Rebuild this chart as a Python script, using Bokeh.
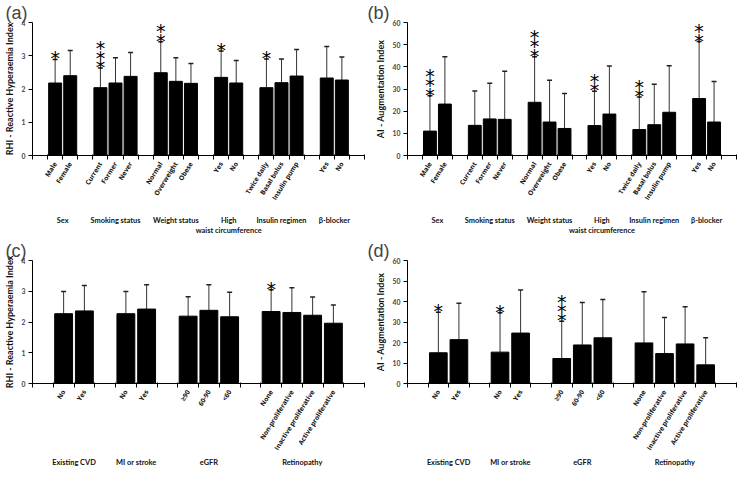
from math import radians
from bokeh.plotting import figure
from bokeh.models import (Range1d, FixedTicker, LinearAxis, ColumnDataSource,
                          Whisker, TeeHead)
from bokeh.layouts import row, column
from bokeh.core.properties import value
from bokeh.embed import file_html
from bokeh.resources import INLINE

# ---------------- data: panels (a) and (b) ----------------
ab_groups = ["Sex", "Smoking status", "Weight status", "High\nwaist circumference",
             "Insulin regimen", "\u03b2-blocker"]
ab_cats = ["Male", "Female", "Current", "Former", "Never", "Normal", "Overweight", "Obese",
           "Yes", "No", "Twice daily", "Basal bolus", "Insulin pump", "Yes", "No"]
ab_group_of = [0, 0, 1, 1, 1, 2, 2, 2, 3, 3, 4, 4, 4, 5, 5]

a_rhi = [2.18, 2.40, 2.04, 2.18, 2.38, 2.49, 2.23, 2.17, 2.35, 2.18, 2.04, 2.19, 2.39, 2.33, 2.27]
a_rhi_upper = [2.89, 3.16, 2.63, 2.94, 3.10, 3.42, 2.94, 2.77, 3.14, 2.86, 2.90, 2.90, 3.19, 3.28, 2.96]
a_stars = [1, 0, 3, 0, 0, 2, 0, 0, 1, 0, 1, 0, 0, 0, 0]

b_ai = [11.0, 23.2, 13.6, 16.5, 16.3, 24.0, 15.1, 12.2, 13.5, 18.7, 11.7, 13.9, 19.5, 25.7, 15.1]
b_ai_upper = [27.0, 44.5, 29.1, 32.6, 38.0, 44.6, 33.9, 28.0, 29.0, 40.4, 26.4, 32.1, 40.5, 51.4, 33.4]
b_stars = [3, 0, 0, 0, 0, 3, 0, 0, 2, 0, 2, 0, 0, 2, 0]

# ---------------- data: panels (c) and (d) ----------------
cd_groups = ["Existing CVD", "MI or stroke", "eGFR", "Retinopathy"]
cd_cats = ["No", "Yes", "No", "Yes", "\u226590", "60-90", "<60",
           "None", "Non-proliferative", "Inactive proliferative", "Active proliferative"]
cd_group_of = [0, 0, 1, 1, 2, 2, 2, 3, 3, 3, 3]

c_rhi = [2.27, 2.36, 2.27, 2.42, 2.19, 2.38, 2.17, 2.34, 2.31, 2.22, 1.96]
c_rhi_upper = [2.99, 3.19, 2.99, 3.21, 2.82, 3.21, 2.97, 3.05, 3.11, 2.81, 2.55]
c_stars = [0, 0, 0, 0, 0, 0, 0, 1, 0, 0, 0]

d_ai = [15.0, 21.4, 15.3, 24.6, 12.2, 18.8, 22.3, 19.8, 14.6, 19.3, 9.1]
d_ai_upper = [34.7, 39.1, 34.5, 45.6, 30.4, 39.5, 41.0, 44.7, 32.2, 37.5, 22.3]
d_stars = [1, 0, 1, 0, 3, 0, 0, 0, 0, 0, 0]

y_ticks_rhi = [0, 1, 2, 3, 4]
y_ticks_ai = [0, 10, 20, 30, 40, 50, 60]

FONT = "Lato"
CAT_FONT = "Open Sans"


def panel(cats, group_of, groups, vals, upper, stars, yticks, ylabel, letter,
          W, H, bl, br, bt, bb, gstand):
    slot = [i + g + 1 for i, g in enumerate(group_of)]
    xc = [s + 0.5 for s in slot]
    nslots = len(cats) + len(groups) + 1
    p = figure(width=W, height=H, x_range=Range1d(0, nslots),
               y_range=Range1d(yticks[0], yticks[-1]),
               output_backend="svg", toolbar_location=None,
               min_border_left=bl, min_border_right=br,
               min_border_top=bt, min_border_bottom=bb)
    p.outline_line_color = None
    p.grid.visible = False
    p.background_fill_color = "white"

    # panel letter as the figure title, pushed to the canvas' left edge
    p.title.text = letter
    p.title.text_font = "Liberation Sans"
    p.title.text_font_style = "normal"
    p.title.text_font_size = "18px"
    p.title.align = "left"
    p.title.offset = -bl
    p.title.standoff = 0

    src = ColumnDataSource(dict(x=xc, top=vals, up=upper))
    p.vbar(x="x", top="top", bottom=0, width=0.86, source=src,
           fill_color="black", line_color="black", line_width=1)
    w = Whisker(source=src, base="x", lower="top", upper="up", dimension="height",
                line_color="#333333", line_width=1,
                upper_head=TeeHead(size=5, line_color="#222222", line_width=1.5),
                lower_head=None)
    p.add_layout(w)

    sx, sy, so = [], [], []
    for x, u, n in zip(xc, upper, stars):
        for k in range(n):
            sx.append(x)
            sy.append(u)
            so.append(-(1 + 9.3 * k))
    if sx:
        p.text(x=sx, y=sy, y_offset=so, text=["*"] * len(sx),
               text_font=value("DejaVu Sans"), text_font_size="19px",
               text_align="center", text_baseline="middle", text_color="black")

    # x axis: category labels at centres, tick marks at slot boundaries
    xa = p.xaxis[0]
    xa.ticker = FixedTicker(ticks=xc, minor_ticks=list(range(nslots + 1)))
    xa.major_label_overrides = {x: c for x, c in zip(xc, cats)}
    xa.major_tick_out = 0
    xa.major_tick_in = 0
    xa.minor_tick_out = 4
    xa.minor_tick_in = 1
    xa.minor_tick_line_color = "black"
    xa.axis_line_color = "black"
    xa.major_label_orientation = radians(58)
    xa.major_label_text_font = CAT_FONT
    xa.major_label_text_font_style = "bold"
    xa.major_label_text_font_size = "6.6px"
    xa.major_label_text_color = "#111111"
    xa.major_label_standoff = 3

    # group labels axis
    gc = []
    for gi in range(len(groups)):
        xs = [x for x, g in zip(xc, group_of) if g == gi]
        gc.append(sum(xs) / len(xs))
    ga = LinearAxis(ticker=FixedTicker(ticks=gc, minor_ticks=[]),
                    major_label_overrides={x: g for x, g in zip(gc, groups)},
                    axis_line_color=None, major_tick_out=0, major_tick_in=0,
                    minor_tick_out=0, minor_tick_in=0,
                    major_label_text_font=FONT, major_label_text_font_style="bold",
                    major_label_text_font_size="7.4px", major_label_text_color="#111111",
                    major_label_standoff=gstand)
    p.add_layout(ga, "below")

    ya = p.yaxis[0]
    ya.ticker = FixedTicker(ticks=yticks, minor_ticks=[])
    ya.major_tick_out = 4
    ya.major_tick_in = 0
    ya.axis_line_color = "black"
    ya.major_label_text_font = FONT
    ya.major_label_text_font_style = "bold"
    ya.major_label_text_font_size = "6.8px"
    ya.major_label_standoff = 3
    ya.axis_label = ylabel
    ya.axis_label_text_font = FONT
    ya.axis_label_text_font_style = "bold"
    ya.axis_label_text_font_size = "9px"
    ya.axis_label_text_color = "#111111"
    ya.axis_label_standoff = 4
    return p


pa = panel(ab_cats, ab_group_of, ab_groups, a_rhi, a_rhi_upper, a_stars, y_ticks_rhi,
           "RHI - Reactive Hyperaemia Index", "(a)", 367, 238, 27, 3, 22, 70, 8)
pb = panel(ab_cats, ab_group_of, ab_groups, b_ai, b_ai_upper, b_stars, y_ticks_ai,
           "AI - Augmentation Index", "(b)", 371, 238, 40, 2, 22, 70, 8)
pc = panel(cd_cats, cd_group_of, cd_groups, c_rhi, c_rhi_upper, c_stars, y_ticks_rhi,
           "RHI - Reactive Hyperaemia Index", "(c)", 367, 231, 27, 3, 22, 77, 0)
pd = panel(cd_cats, cd_group_of, cd_groups, d_ai, d_ai_upper, d_stars, y_ticks_ai,
           "AI - Augmentation Index", "(d)", 371, 231, 40, 2, 22, 77, 0)

layout = column(row(pa, pb), row(pc, pd))
open("out.html", "w").write(file_html(layout, INLINE))
